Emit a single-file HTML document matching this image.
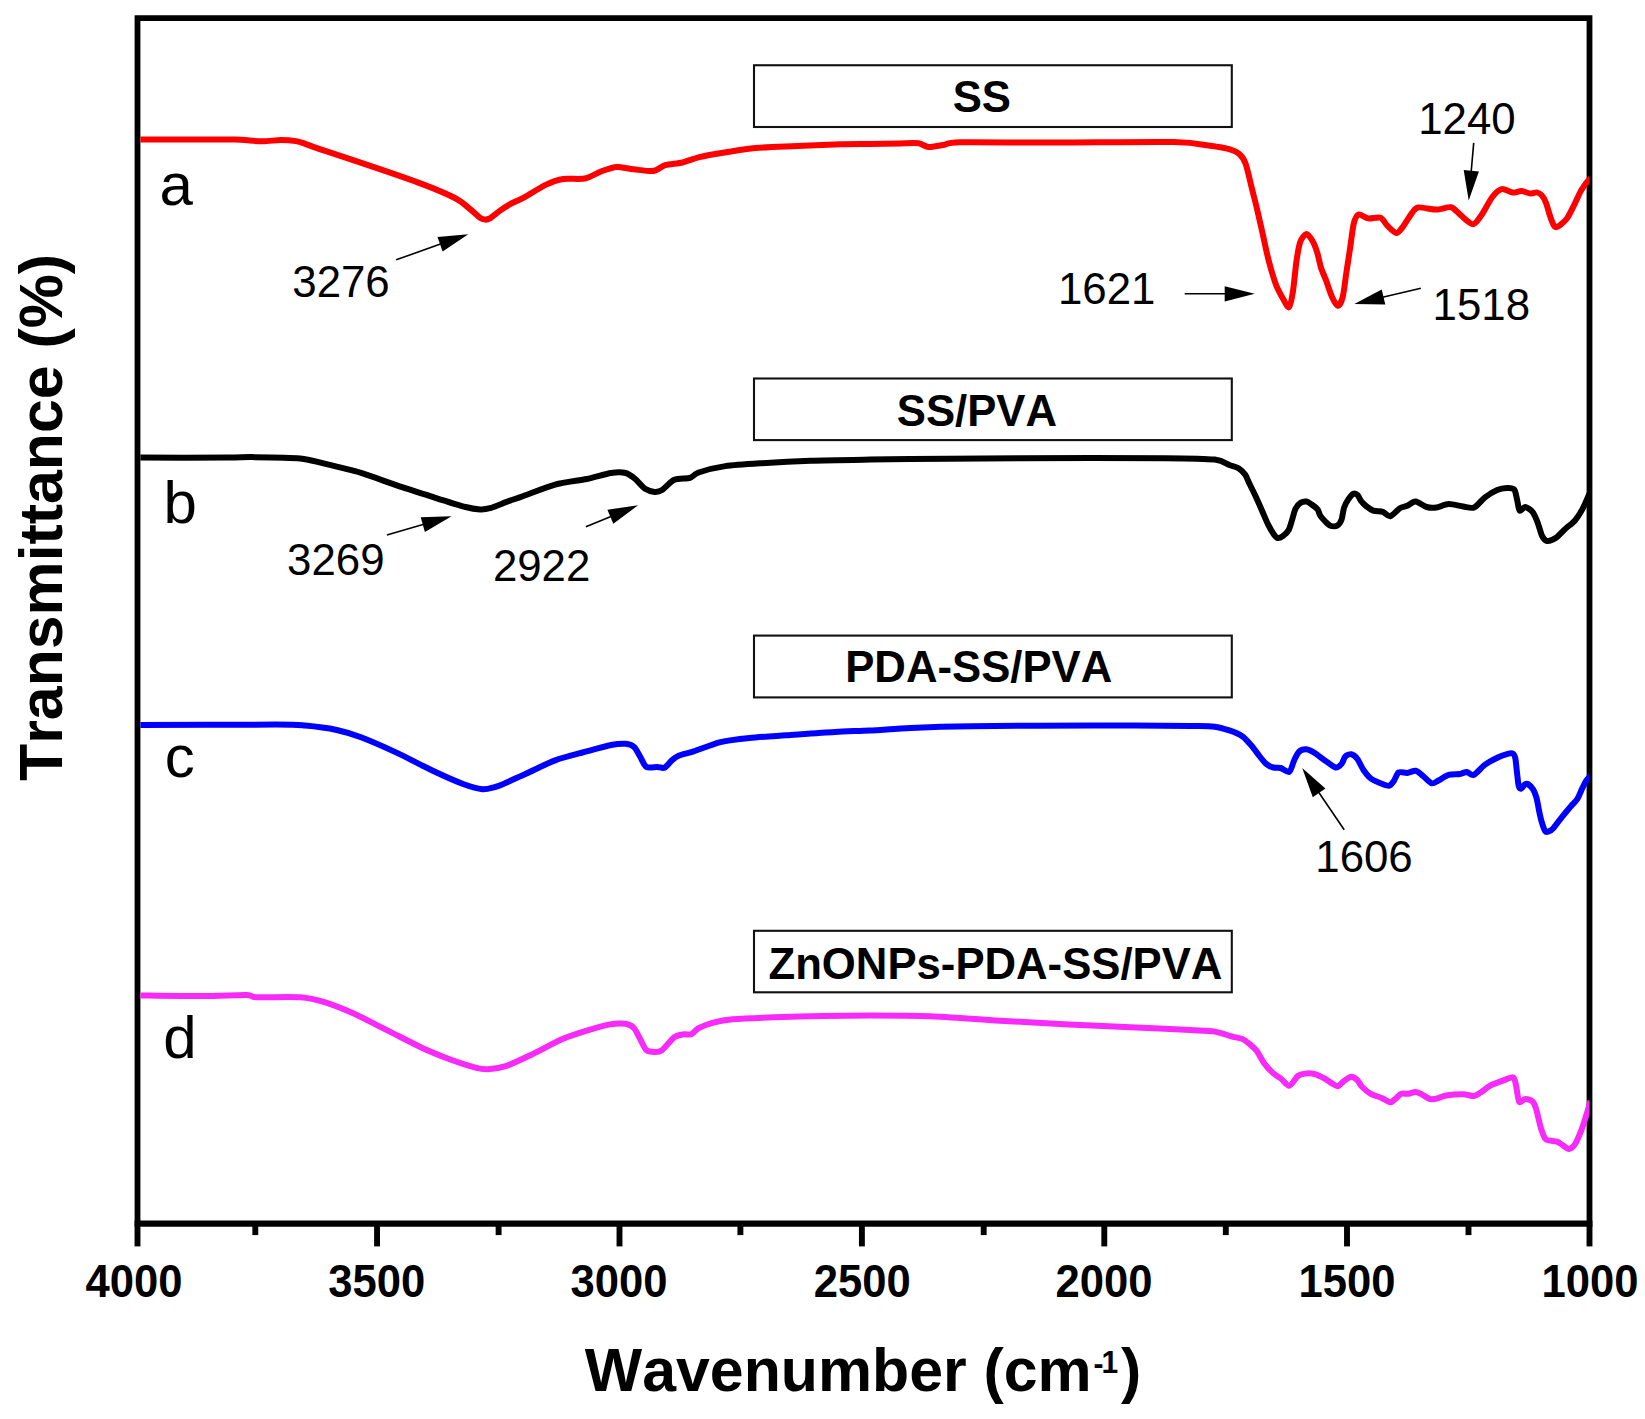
<!DOCTYPE html><html><head><meta charset="utf-8"><title>FTIR spectra</title>
<style>html,body{margin:0;padding:0;background:#fff}svg{display:block}text{font-family:"Liberation Sans",Arial,sans-serif;fill:#000;font-kerning:none;white-space:pre}.b{font-weight:bold}</style></head><body>
<svg width="1645" height="1419" viewBox="0 0 1645 1419">
<rect width="1645" height="1419" fill="#fff"/>
<path d="M137.50 1223.55 V18.15 H1589.50 V1223.55" fill="none" stroke="#000" stroke-width="5.8" stroke-linejoin="miter"/>
<line x1="134.60" y1="1223.55" x2="1592.40" y2="1223.55" stroke="#000" stroke-width="6.3"/>
<line x1="137.50" y1="1223.55" x2="137.50" y2="1246.40" stroke="#000" stroke-width="5.9"/>
<line x1="377.05" y1="1223.55" x2="377.05" y2="1246.40" stroke="#000" stroke-width="5.9"/>
<line x1="619.50" y1="1223.55" x2="619.50" y2="1246.40" stroke="#000" stroke-width="5.9"/>
<line x1="861.90" y1="1223.55" x2="861.90" y2="1246.40" stroke="#000" stroke-width="5.9"/>
<line x1="1104.30" y1="1223.55" x2="1104.30" y2="1246.40" stroke="#000" stroke-width="5.9"/>
<line x1="1347.00" y1="1223.55" x2="1347.00" y2="1246.40" stroke="#000" stroke-width="5.9"/>
<line x1="1589.50" y1="1223.55" x2="1589.50" y2="1246.40" stroke="#000" stroke-width="5.9"/>
<line x1="255.30" y1="1223.55" x2="255.30" y2="1235.10" stroke="#000" stroke-width="5.9"/>
<line x1="498.60" y1="1223.55" x2="498.60" y2="1235.10" stroke="#000" stroke-width="5.9"/>
<line x1="740.40" y1="1223.55" x2="740.40" y2="1235.10" stroke="#000" stroke-width="5.9"/>
<line x1="983.70" y1="1223.55" x2="983.70" y2="1235.10" stroke="#000" stroke-width="5.9"/>
<line x1="1225.80" y1="1223.55" x2="1225.80" y2="1235.10" stroke="#000" stroke-width="5.9"/>
<line x1="1468.50" y1="1223.55" x2="1468.50" y2="1235.10" stroke="#000" stroke-width="5.9"/>
<defs><clipPath id="plot"><rect x="140.40" y="18.15" width="1449.20" height="1205.40"/></clipPath></defs>
<g clip-path="url(#plot)">
<path d="M139.0 139.6C145.8 139.6 177.3 139.4 190.0 139.4C202.7 139.4 225.1 139.3 234.6 139.6C244.1 139.9 255.1 141.2 261.3 141.3C267.5 141.4 276.2 140.1 280.8 140.1C285.4 140.1 293.1 140.7 296.0 141.1C298.9 141.5 298.7 141.6 302.5 142.9C306.3 144.2 315.1 147.4 324.5 150.6C333.9 153.8 360.2 162.5 373.2 166.9C386.2 171.3 410.8 179.7 421.8 183.9C432.8 188.1 449.3 195.1 455.8 198.5C462.3 201.9 467.2 206.8 470.4 209.4C473.6 212.0 478.2 216.5 480.1 217.9C482.0 219.3 483.7 219.5 485.0 219.6C486.3 219.7 487.9 219.6 489.9 218.4C491.9 217.2 497.4 212.4 500.0 210.6C502.6 208.8 506.1 206.4 509.3 204.6C512.5 202.8 519.4 200.0 524.3 197.3C529.2 194.6 541.0 187.0 546.2 184.6C551.4 182.2 558.0 179.8 563.2 179.0C568.4 178.2 579.9 179.6 585.1 178.5C590.3 177.4 597.9 172.5 602.1 171.0C606.3 169.5 612.5 167.1 616.7 166.9C620.9 166.7 628.8 168.8 633.7 169.3C638.6 169.8 649.0 171.5 653.2 171.0C657.4 170.5 661.4 166.3 665.3 165.2C669.2 164.1 677.9 163.6 682.4 162.5C686.9 161.4 693.6 158.5 699.4 157.1C705.2 155.7 718.6 153.5 726.1 152.3C733.6 151.1 746.5 148.9 755.3 148.1C764.1 147.3 780.5 146.7 791.8 146.2C803.1 145.7 830.0 144.6 840.4 144.3C850.8 144.0 862.1 144.1 870.0 144.0C877.9 143.9 893.5 143.5 900.0 143.4C906.5 143.3 914.8 142.8 918.6 143.3C922.4 143.8 925.1 146.8 928.4 147.0C931.7 147.2 938.8 145.6 943.0 145.0C947.2 144.4 945.7 142.6 960.0 142.3C974.3 142.0 1021.5 142.6 1050.0 142.6C1078.5 142.6 1152.6 141.7 1174.0 142.1C1195.4 142.5 1202.9 144.8 1210.4 145.8C1217.9 146.8 1226.0 148.3 1229.9 149.4C1233.8 150.5 1237.5 152.4 1239.6 154.3C1241.7 156.2 1244.1 159.6 1245.7 164.0C1247.3 168.4 1250.2 181.6 1251.6 187.3C1253.0 193.0 1255.0 200.5 1256.5 206.7C1258.0 212.9 1261.0 226.4 1262.6 233.5C1264.2 240.6 1266.8 253.4 1268.6 260.2C1270.4 267.0 1274.0 279.3 1275.9 284.5C1277.8 289.7 1281.5 296.1 1283.2 299.1C1284.9 302.1 1287.7 308.2 1289.0 307.2C1290.3 306.2 1291.9 298.1 1292.9 291.8C1293.9 285.5 1295.6 266.8 1296.6 260.2C1297.6 253.6 1298.9 245.5 1300.2 242.0C1301.5 238.5 1304.7 234.2 1306.3 234.0C1307.9 233.8 1310.9 238.3 1312.4 240.8C1313.9 243.3 1316.2 249.3 1317.3 252.9C1318.4 256.5 1319.8 263.9 1320.9 267.5C1322.0 271.1 1324.3 275.8 1325.8 279.7C1327.3 283.6 1330.3 293.2 1331.9 296.7C1333.5 300.2 1336.4 305.9 1337.9 305.9C1339.4 305.9 1341.7 301.2 1342.8 296.7C1343.9 292.2 1345.4 278.9 1346.4 272.4C1347.4 265.9 1349.1 254.6 1350.1 248.1C1351.1 241.6 1352.6 228.2 1353.7 223.7C1354.8 219.2 1356.7 215.2 1358.6 214.5C1360.5 213.8 1365.4 218.0 1368.3 218.4C1371.2 218.8 1377.9 216.7 1380.5 217.7C1383.1 218.7 1385.7 224.2 1387.8 226.2C1389.9 228.2 1394.4 232.8 1396.3 233.0C1398.2 233.2 1400.3 230.1 1402.4 227.4C1404.5 224.7 1410.0 215.5 1412.1 212.8C1414.2 210.1 1415.0 207.8 1418.2 207.4C1421.4 207.0 1432.0 209.6 1436.4 209.6C1440.8 209.6 1447.8 206.5 1451.0 207.2C1454.2 207.9 1457.8 212.9 1460.7 215.2C1463.6 217.5 1470.1 224.2 1472.9 224.2C1475.7 224.2 1478.8 218.8 1481.4 215.2C1484.0 211.6 1489.6 200.5 1492.3 197.0C1495.0 193.5 1499.0 189.7 1501.7 189.1C1504.4 188.5 1510.2 192.3 1512.8 192.6C1515.4 192.9 1518.9 191.0 1521.3 191.1C1523.7 191.2 1528.6 193.4 1530.6 193.6C1532.6 193.8 1535.1 192.2 1536.6 192.4C1538.1 192.6 1540.4 193.9 1541.7 195.3C1543.0 196.7 1544.9 200.0 1546.0 202.8C1547.1 205.6 1549.2 213.5 1550.2 216.4C1551.2 219.3 1552.8 223.5 1553.6 224.9C1554.4 226.3 1555.3 227.2 1556.2 227.2C1557.1 227.2 1558.9 226.1 1560.4 224.9C1561.9 223.7 1565.4 220.7 1567.2 218.1C1569.0 215.5 1572.2 208.9 1574.0 205.3C1575.8 201.7 1579.3 193.8 1580.9 190.9C1582.5 188.0 1584.9 184.7 1586.0 183.2C1587.1 181.7 1588.8 180.1 1589.4 179.4C1590.0 178.7 1590.4 178.2 1590.6 178.0" fill="none" stroke="#ff0000" stroke-width="6.0" stroke-linejoin="round" stroke-linecap="butt"/>
<path d="M139.0 457.6C150.8 457.6 212.3 457.7 227.3 457.6C242.3 457.5 241.9 457.0 251.6 457.1C261.3 457.2 290.5 457.5 300.2 458.4C309.9 459.3 316.4 461.8 324.5 463.7C332.6 465.6 351.3 470.0 361.0 472.9C370.7 475.8 387.8 482.3 397.5 485.6C407.2 488.9 424.8 494.4 433.9 497.3C443.0 500.2 459.4 505.4 465.6 507.0C471.8 508.6 476.9 509.2 480.1 509.4C483.3 509.6 486.0 509.3 489.9 508.2C493.8 507.1 504.8 502.5 509.3 500.9C513.8 499.3 517.4 498.2 523.5 496.0C529.6 493.8 546.7 486.9 555.1 484.6C563.5 482.3 579.2 480.5 586.7 479.0C594.2 477.5 605.8 473.8 611.0 473.0C616.2 472.2 622.4 472.2 625.6 473.0C628.8 473.8 632.7 476.9 635.3 479.0C637.9 481.1 642.5 487.1 645.1 488.8C647.7 490.5 652.5 491.7 654.8 491.9C657.1 492.1 659.5 491.6 662.1 490.0C664.7 488.4 670.6 481.4 674.3 479.8C678.0 478.2 686.9 478.8 690.1 477.8C693.3 476.8 693.9 474.1 698.6 472.5C703.3 470.9 716.9 467.3 725.3 466.1C733.7 464.9 750.5 463.9 761.8 463.2C773.1 462.5 796.0 461.3 810.4 460.8C824.8 460.3 851.7 459.9 870.0 459.6C888.3 459.3 927.3 458.9 947.3 458.7C967.3 458.5 991.0 458.3 1020.2 458.2C1049.4 458.1 1140.2 458.0 1166.1 458.2C1192.0 458.4 1206.2 458.7 1214.7 459.6C1223.2 460.5 1226.8 464.1 1230.0 465.3C1233.2 466.5 1236.5 467.0 1238.5 468.3C1240.5 469.6 1243.8 472.6 1245.3 474.7C1246.8 476.8 1248.2 481.2 1249.6 484.0C1251.0 486.8 1253.8 492.4 1255.5 496.0C1257.2 499.6 1260.6 507.4 1262.3 511.3C1264.0 515.2 1266.7 521.7 1268.3 524.9C1269.9 528.1 1273.0 533.3 1274.3 535.1C1275.6 536.9 1276.6 538.0 1277.7 538.1C1278.8 538.2 1281.3 537.3 1282.8 536.2C1284.3 535.1 1287.5 532.2 1288.7 530.0C1289.9 527.8 1291.2 522.6 1292.1 519.8C1293.0 517.0 1294.4 511.0 1295.5 508.7C1296.6 506.4 1299.1 503.8 1300.6 502.8C1302.1 501.8 1305.1 501.3 1306.6 501.5C1308.1 501.7 1310.2 503.4 1311.7 504.5C1313.2 505.6 1316.6 508.1 1317.7 509.6C1318.8 511.1 1319.2 513.9 1320.2 515.5C1321.2 517.1 1323.9 520.1 1325.3 521.5C1326.7 522.9 1328.8 525.1 1330.4 525.7C1332.0 526.3 1335.7 526.5 1337.2 525.7C1338.7 524.9 1340.6 522.2 1341.5 519.8C1342.4 517.4 1343.1 510.6 1344.0 507.9C1344.9 505.2 1347.0 501.3 1348.3 499.4C1349.6 497.5 1352.1 494.4 1353.4 493.8C1354.7 493.2 1356.7 494.1 1357.7 495.1C1358.7 496.1 1360.0 499.6 1361.1 501.1C1362.2 502.6 1364.6 504.9 1366.2 506.2C1367.8 507.5 1371.0 509.8 1373.2 510.6C1375.4 511.4 1380.6 511.2 1382.9 511.9C1385.2 512.6 1387.9 516.7 1390.2 516.2C1392.5 515.7 1397.6 509.6 1399.9 508.2C1402.2 506.8 1405.1 506.7 1407.2 505.8C1409.3 504.9 1413.1 501.4 1415.7 501.6C1418.3 501.8 1423.9 506.2 1426.7 507.0C1429.5 507.8 1433.5 507.9 1436.4 507.5C1439.3 507.1 1445.0 504.2 1448.6 504.1C1452.2 504.0 1459.8 506.0 1463.2 506.5C1466.6 507.0 1471.2 508.7 1474.1 507.5C1477.0 506.3 1481.9 499.6 1485.0 497.3C1488.1 495.0 1494.3 491.2 1497.2 490.0C1500.1 488.8 1504.6 488.1 1506.9 488.0C1509.2 487.9 1512.8 487.9 1514.2 489.5C1515.6 491.1 1516.4 496.9 1517.1 499.7C1517.8 502.5 1518.5 509.6 1519.6 510.6C1520.7 511.6 1523.5 506.8 1525.2 507.0C1526.9 507.2 1530.9 510.0 1532.5 511.9C1534.1 513.8 1536.0 518.4 1537.3 521.6C1538.6 524.8 1540.9 533.6 1542.2 536.2C1543.5 538.8 1545.2 540.7 1547.0 541.0C1548.8 541.3 1553.2 539.7 1555.6 538.1C1558.0 536.5 1562.7 531.3 1565.3 528.9C1567.9 526.5 1572.7 523.0 1575.0 520.4C1577.3 517.8 1580.5 512.7 1582.3 509.4C1584.1 506.1 1587.3 498.4 1588.4 496.0C1589.5 493.6 1590.2 491.8 1590.5 491.2" fill="none" stroke="#000000" stroke-width="6.0" stroke-linejoin="round" stroke-linecap="butt"/>
<path d="M139.0 725.1C157.3 725.0 253.8 724.5 275.9 724.6C298.0 724.7 297.0 724.9 305.1 725.6C313.2 726.3 329.2 728.4 336.7 730.0C344.2 731.6 352.9 734.2 361.0 737.3C369.1 740.4 387.8 748.6 397.5 753.1C407.2 757.6 425.2 767.2 433.9 771.3C442.6 775.4 456.6 781.6 463.1 784.0C469.6 786.4 478.4 788.9 482.6 789.3C486.8 789.7 492.2 787.7 494.7 787.1C497.2 786.5 497.4 786.5 501.6 784.7C505.8 782.9 518.8 776.9 525.9 773.7C533.0 770.5 547.0 763.4 555.1 760.4C563.2 757.4 579.2 753.5 586.7 751.4C594.2 749.3 605.8 746.0 611.0 745.0C616.2 744.0 622.5 743.5 625.6 743.8C628.7 744.1 632.2 745.3 634.1 747.0C636.0 748.7 638.6 754.0 640.2 756.7C641.8 759.4 644.0 765.5 646.3 766.9C648.6 768.3 654.8 766.8 657.2 766.9C659.6 767.0 662.6 768.6 664.5 767.7C666.4 766.8 669.9 762.0 671.8 760.4C673.7 758.8 676.2 756.7 679.1 755.5C682.0 754.3 688.2 753.2 693.7 751.4C699.2 749.6 713.0 743.9 720.5 742.1C728.0 740.3 740.9 738.9 749.6 738.0C758.3 737.1 774.8 736.1 786.1 735.3C797.4 734.5 823.5 732.5 834.7 731.9C845.9 731.3 859.9 731.0 870.0 730.5C880.1 730.0 897.3 728.5 910.8 727.9C924.3 727.3 947.3 726.5 971.6 726.2C995.9 725.9 1064.0 725.5 1093.2 725.5C1122.4 725.5 1174.2 725.8 1190.4 726.0C1206.6 726.2 1209.5 726.1 1214.7 726.7C1219.9 727.3 1225.7 729.2 1229.3 730.4C1232.9 731.6 1238.9 733.9 1241.9 735.9C1244.9 737.9 1249.3 743.1 1251.6 745.7C1253.9 748.3 1257.0 753.0 1258.9 755.4C1260.8 757.8 1264.3 762.3 1266.2 763.9C1268.1 765.5 1271.6 767.0 1273.5 767.5C1275.4 768.0 1278.7 767.4 1280.8 768.0C1282.9 768.6 1287.5 772.9 1289.3 771.9C1291.1 770.9 1292.9 762.9 1294.2 760.2C1295.5 757.5 1297.4 753.2 1299.0 751.7C1300.6 750.2 1304.2 749.1 1306.3 749.3C1308.4 749.5 1312.4 751.5 1314.8 753.0C1317.2 754.5 1321.8 758.3 1324.6 760.2C1327.4 762.1 1333.2 767.0 1335.5 767.5C1337.8 768.0 1340.3 765.4 1341.6 763.9C1342.9 762.4 1343.9 757.9 1345.2 756.6C1346.5 755.3 1349.7 753.9 1351.3 754.2C1352.9 754.5 1355.8 756.9 1357.4 759.0C1359.0 761.1 1361.7 767.4 1363.5 770.0C1365.3 772.6 1368.5 776.7 1370.8 778.5C1373.1 780.3 1378.1 782.3 1380.5 783.3C1382.9 784.3 1387.2 786.1 1389.0 785.8C1390.8 785.5 1392.6 782.7 1393.9 780.9C1395.2 779.1 1396.9 773.5 1398.7 772.4C1400.5 771.3 1404.9 773.1 1407.2 772.9C1409.5 772.7 1413.6 770.3 1415.7 770.7C1417.8 771.1 1420.9 774.3 1423.0 776.0C1425.1 777.7 1429.5 782.7 1431.6 783.3C1433.7 783.9 1436.6 781.3 1438.9 780.2C1441.2 779.1 1445.8 775.6 1448.6 774.8C1451.4 774.0 1457.6 774.4 1460.0 774.0C1462.4 773.6 1465.0 771.8 1466.8 771.9C1468.6 772.0 1471.2 775.9 1473.6 775.0C1476.0 774.1 1481.4 767.3 1484.7 764.9C1488.0 762.5 1495.2 758.7 1498.3 757.2C1501.4 755.7 1505.8 754.4 1507.7 753.9C1509.6 753.4 1511.8 752.9 1512.8 753.5C1513.8 754.1 1514.7 755.6 1515.3 758.1C1515.9 760.6 1516.5 768.9 1517.0 772.6C1517.5 776.3 1518.1 783.9 1518.7 786.0C1519.3 788.1 1520.5 788.8 1521.3 788.6C1522.1 788.4 1523.8 785.2 1524.7 784.6C1525.6 784.0 1527.0 783.4 1528.1 784.1C1529.2 784.8 1532.1 787.7 1533.2 789.6C1534.3 791.5 1535.8 795.3 1536.6 798.1C1537.4 800.9 1538.4 807.7 1539.1 810.9C1539.8 814.1 1540.9 819.2 1541.7 821.9C1542.5 824.6 1544.2 829.7 1545.1 831.0C1546.0 832.3 1547.4 831.9 1548.5 831.5C1549.6 831.1 1551.8 829.9 1553.6 827.9C1555.4 825.9 1559.8 819.6 1562.1 816.8C1564.4 814.0 1568.6 809.0 1570.6 806.6C1572.6 804.2 1575.9 801.2 1577.4 798.9C1578.9 796.6 1580.6 792.0 1581.7 789.6C1582.8 787.2 1585.0 782.8 1586.0 781.1C1587.0 779.4 1588.8 777.8 1589.4 777.0C1590.0 776.2 1590.4 775.5 1590.6 775.3" fill="none" stroke="#0000ff" stroke-width="6.0" stroke-linejoin="round" stroke-linecap="butt"/>
<path d="M139.0 995.4C147.5 995.5 188.5 996.2 202.9 996.1C217.3 996.0 239.6 994.7 246.7 994.9C253.8 995.1 249.3 997.0 256.4 997.3C263.5 997.6 291.1 996.6 300.2 997.3C309.3 998.0 317.4 1000.0 324.5 1002.2C331.6 1004.4 345.6 1010.0 353.7 1013.6C361.8 1017.2 376.2 1024.9 385.3 1029.4C394.4 1033.9 413.0 1043.6 421.8 1047.7C430.6 1051.8 443.9 1057.1 451.0 1059.8C458.1 1062.5 470.4 1066.3 475.3 1067.6C480.2 1068.9 483.8 1069.4 488.0 1069.2C492.2 1069.0 500.8 1067.8 506.5 1065.9C512.2 1064.0 523.3 1058.6 530.8 1055.0C538.3 1051.4 554.9 1042.4 562.4 1039.1C569.9 1035.8 580.5 1032.5 586.7 1030.6C592.9 1028.7 603.4 1025.5 608.6 1024.6C613.8 1023.7 622.2 1023.3 625.6 1023.8C629.0 1024.3 632.2 1026.2 634.1 1028.2C636.0 1030.2 638.6 1036.2 640.2 1039.1C641.8 1042.0 644.4 1048.4 646.3 1050.1C648.2 1051.8 652.7 1052.0 654.8 1052.0C656.9 1052.0 659.5 1052.1 662.1 1050.1C664.7 1048.1 671.4 1039.3 674.3 1037.2C677.2 1035.1 681.7 1034.7 684.0 1034.3C686.3 1033.9 689.4 1035.1 691.3 1034.3C693.2 1033.5 695.7 1029.8 698.6 1028.2C701.5 1026.6 708.7 1023.8 713.2 1022.6C717.7 1021.4 724.5 1019.9 732.6 1019.2C740.7 1018.5 762.0 1017.7 774.0 1017.3C786.0 1016.9 809.8 1016.3 822.6 1016.0C835.4 1015.7 855.7 1015.4 870.0 1015.4C884.3 1015.4 913.4 1015.5 930.2 1016.2C947.0 1016.9 977.4 1019.3 995.9 1020.4C1014.4 1021.5 1049.3 1023.5 1068.8 1024.5C1088.3 1025.5 1125.6 1027.0 1141.8 1027.7C1158.0 1028.4 1180.7 1029.6 1190.4 1030.1C1200.1 1030.6 1209.1 1030.7 1214.7 1031.6C1220.3 1032.5 1228.6 1035.6 1232.2 1036.6C1235.8 1037.6 1239.6 1037.9 1241.9 1038.8C1244.2 1039.7 1247.3 1042.1 1249.2 1043.7C1251.1 1045.3 1254.6 1048.0 1256.5 1050.5C1258.4 1053.0 1261.7 1059.8 1263.8 1062.7C1265.9 1065.6 1270.0 1070.3 1272.3 1072.4C1274.6 1074.5 1278.5 1076.7 1280.8 1078.5C1283.1 1080.3 1287.0 1086.1 1289.3 1085.8C1291.6 1085.5 1295.7 1077.6 1297.8 1076.0C1299.9 1074.4 1302.8 1073.9 1305.1 1073.6C1307.4 1073.3 1312.2 1073.4 1314.8 1074.1C1317.4 1074.8 1322.3 1077.3 1324.6 1078.5C1326.9 1079.7 1330.1 1082.3 1331.9 1083.3C1333.7 1084.3 1336.3 1086.6 1337.9 1086.3C1339.5 1086.0 1342.2 1082.2 1344.0 1080.9C1345.8 1079.6 1349.5 1076.9 1351.3 1076.8C1353.1 1076.7 1355.9 1078.8 1357.4 1080.2C1358.9 1081.6 1360.4 1085.2 1362.2 1087.0C1364.0 1088.8 1368.2 1092.3 1370.8 1093.8C1373.4 1095.3 1379.1 1096.8 1381.7 1097.9C1384.3 1099.0 1388.4 1102.1 1390.2 1102.3C1392.0 1102.5 1393.6 1100.2 1395.1 1099.1C1396.6 1098.0 1399.4 1094.5 1401.2 1093.8C1403.0 1093.1 1406.6 1094.1 1408.5 1093.8C1410.4 1093.5 1413.9 1091.8 1415.7 1091.9C1417.5 1092.0 1419.9 1093.3 1421.8 1094.3C1423.7 1095.3 1428.2 1098.6 1430.3 1099.1C1432.4 1099.6 1435.5 1098.9 1437.6 1098.4C1439.7 1097.9 1442.7 1096.0 1446.1 1095.5C1449.5 1095.0 1459.5 1094.2 1463.2 1094.3C1466.9 1094.4 1471.7 1096.3 1474.1 1096.0C1476.5 1095.7 1479.3 1093.3 1481.4 1091.9C1483.5 1090.5 1487.1 1087.3 1489.9 1085.8C1492.7 1084.3 1499.0 1082.0 1502.1 1080.9C1505.2 1079.8 1511.2 1076.8 1513.0 1077.3C1514.8 1077.8 1515.1 1081.4 1515.9 1084.6C1516.7 1087.8 1517.9 1099.7 1519.1 1101.6C1520.3 1103.5 1523.4 1099.1 1525.2 1099.1C1527.0 1099.1 1531.0 1100.3 1532.5 1101.6C1534.0 1102.9 1535.0 1105.3 1536.1 1108.9C1537.2 1112.5 1539.7 1124.2 1541.0 1128.3C1542.3 1132.4 1543.7 1137.5 1545.8 1139.3C1547.9 1141.1 1554.5 1140.9 1556.8 1141.7C1559.1 1142.5 1561.3 1144.3 1562.9 1145.3C1564.5 1146.3 1567.3 1149.2 1568.9 1149.0C1570.5 1148.8 1573.4 1146.5 1575.0 1144.1C1576.6 1141.7 1579.6 1134.5 1581.1 1130.8C1582.6 1127.1 1584.9 1119.8 1586.0 1116.2C1587.1 1112.6 1589.0 1106.1 1589.6 1104.0C1590.2 1101.9 1590.5 1101.1 1590.6 1100.6" fill="none" stroke="#f82afa" stroke-width="6.0" stroke-linejoin="round" stroke-linecap="butt"/>
</g>
<rect x="754.00" y="65.25" width="477.80" height="61.75" fill="#fff" stroke="#111" stroke-width="2.1"/>
<rect x="754.00" y="378.50" width="477.80" height="61.60" fill="#fff" stroke="#111" stroke-width="2.1"/>
<rect x="754.00" y="635.60" width="477.80" height="61.80" fill="#fff" stroke="#111" stroke-width="2.1"/>
<rect x="754.00" y="930.80" width="477.80" height="61.50" fill="#fff" stroke="#111" stroke-width="2.1"/>
<line x1="396.2" y1="259.8" x2="441.9" y2="243.6" stroke="#000" stroke-width="1.6"/><polygon points="468.3,234.3 442.6,251.5 437.5,237.1" fill="#000"/>
<line x1="1184.7" y1="293.8" x2="1226.7" y2="293.8" stroke="#000" stroke-width="1.6"/><polygon points="1254.7,293.8 1224.7,301.4 1224.7,286.2" fill="#000"/>
<line x1="1420.9" y1="288.2" x2="1381.5" y2="297.5" stroke="#000" stroke-width="1.6"/><polygon points="1354.3,304.0 1381.7,289.6 1385.3,304.5" fill="#000"/>
<line x1="1473.7" y1="142.9" x2="1471.1" y2="172.7" stroke="#000" stroke-width="1.6"/><polygon points="1468.7,200.6 1463.7,170.1 1478.9,171.4" fill="#000"/>
<line x1="386.9" y1="535.1" x2="424.7" y2="524.1" stroke="#000" stroke-width="1.6"/><polygon points="451.6,516.3 424.9,532.0 420.7,517.3" fill="#000"/>
<line x1="585.9" y1="526.8" x2="612.2" y2="516.0" stroke="#000" stroke-width="1.6"/><polygon points="638.1,505.3 613.3,523.8 607.4,509.7" fill="#000"/>
<line x1="1344.2" y1="829.7" x2="1318.0" y2="791.2" stroke="#000" stroke-width="1.6"/><polygon points="1302.2,768.1 1325.4,788.6 1312.8,797.2" fill="#000"/>
<text class="b" transform="translate(85.40 1297.40) scale(1.000 1.040)" font-size="43.6">4000</text>
<text class="b" transform="translate(328.25 1297.40) scale(1.000 1.040)" font-size="43.6">3500</text>
<text class="b" transform="translate(570.60 1297.40) scale(1.000 1.040)" font-size="43.6">3000</text>
<text class="b" transform="translate(813.65 1297.40) scale(1.000 1.040)" font-size="43.6">2500</text>
<text class="b" transform="translate(1055.40 1297.40) scale(1.000 1.040)" font-size="43.6">2000</text>
<text class="b" transform="translate(1298.60 1297.40) scale(1.000 1.040)" font-size="43.6">1500</text>
<text class="b" transform="translate(1541.60 1297.40) scale(1.000 1.040)" font-size="43.6">1000</text>
<text class="b" transform="translate(952.70 112.45) scale(1.000 1.020)" font-size="43.7">SS</text>
<text class="b" transform="translate(896.80 425.60) scale(1.000 1.020)" font-size="43.7">SS/PVA</text>
<text class="b" transform="translate(845.22 682.00) scale(1.000 1.020)" font-size="43.7">PDA-SS/PVA</text>
<text class="b" transform="translate(768.50 979.45) scale(1.000 1.020)" font-size="43.7">ZnONPs-PDA-SS/PVA</text>
<text transform="translate(159.50 205.00)" font-size="60.0">a</text>
<text transform="translate(163.55 522.50)" font-size="60.0">b</text>
<text transform="translate(164.80 777.00)" font-size="60.0">c</text>
<text transform="translate(163.30 1057.70)" font-size="60.0">d</text>
<text transform="translate(292.30 297.40) scale(1.000 1.030)" font-size="43.8">3276</text>
<text transform="translate(1058.00 304.35) scale(1.000 1.030)" font-size="43.8">1621</text>
<text transform="translate(1432.60 319.80) scale(1.000 1.030)" font-size="43.8">1518</text>
<text transform="translate(1418.20 133.85) scale(1.000 1.030)" font-size="43.8">1240</text>
<text transform="translate(287.10 575.25) scale(1.000 1.030)" font-size="43.8">3269</text>
<text transform="translate(492.90 581.45) scale(1.000 1.030)" font-size="43.8">2922</text>
<text transform="translate(1315.30 871.75) scale(1.000 1.030)" font-size="43.8">1606</text>
<text class="b" transform="translate(61.80 780.95) rotate(-90) scale(1.000 1.020)" font-size="60.8">Transmittance (%)</text>
<text class="b" transform="translate(584.85 1390.85) scale(1 1.020)" font-size="60.8">Wavenumber (cm<tspan font-size="30.0" x="508.75" y="-16.81">-</tspan><tspan font-size="30.0" x="516.75" y="-17.21">1</tspan><tspan x="536.25" y="0.00">)</tspan></text>
</svg></body></html>
